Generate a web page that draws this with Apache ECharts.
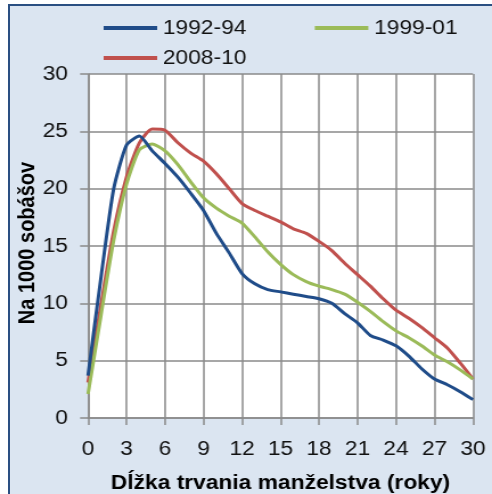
<!DOCTYPE html>
<html>
<head>
<meta charset="utf-8">
<script src="https://cdn.jsdelivr.net/npm/echarts@6/dist/echarts.min.js"></script>
<style>
  html, body { margin: 0; padding: 0; background: #fff; overflow: hidden; }
  #frame {
    position: absolute; left: 8px; top: 4px; width: 484px; height: 490px;
    box-sizing: border-box; background: #dbe5f1;
    border-left: 2px solid #2a4f82; border-top: 2px solid #2a4f82;
  }
  /* the source picture is stretched sideways, so draw narrower and widen */
  #chart {
    position: absolute; left: 0; top: 0; width: 432px; height: 494px;
    transform: scaleX(1.13889); transform-origin: 0 0;
  }
</style>
</head>
<body>
<div id="frame"></div>
<div id="chart"></div>
<script>
  // dĺžka trvania manželstva 0..30 rokov
  const years = [0,1,2,3,4,5,6,7,8,9,10,11,12,13,14,15,16,17,18,19,20,21,22,23,24,25,26,27,28,29,30];
  // rozvody na 1000 sobášov
  const s1992 = [3.7,12.2,20.0,23.8,24.6,23.3,22.2,21.0,19.6,18.1,16.1,14.4,12.6,11.7,11.2,11.0,10.8,10.6,10.4,10.0,9.1,8.3,7.2,6.8,6.3,5.4,4.3,3.4,2.9,2.3,1.6];
  const s1999 = [2.1,8.9,15.5,20.4,23.4,23.9,23.3,22.1,20.6,19.2,18.3,17.6,17.0,15.8,14.5,13.4,12.5,11.9,11.5,11.2,10.8,10.1,9.3,8.4,7.6,7.0,6.3,5.5,4.9,4.2,3.4];
  const s2008 = [3.1,9.8,16.3,21.0,24.0,25.2,25.1,24.0,23.1,22.4,21.3,20.0,18.7,18.1,17.6,17.1,16.5,16.1,15.4,14.6,13.5,12.5,11.5,10.4,9.4,8.7,7.9,7.0,6.1,4.8,3.4];
  const seriesNames = ['1992-94', '1999-01', '2008-10'];
  const colors = ['#1f4c89', '#9bbb59', '#c0504d'];

  const font = 'Liberation Sans, Arial, sans-serif';
  const gridColor = '#8a8a8a';
  const pairs = arr => arr.map((v, i) => [years[i], v]);

  const chart = echarts.init(document.getElementById('chart'), null, { renderer: 'canvas' });

  const legendBase = {
    icon: 'rect',
    itemWidth: 47,
    itemHeight: 4,
    itemGap: 60,
    textStyle: { fontFamily: font, fontSize: 20, color: '#111' }
  };

  chart.setOption({
    backgroundColor: 'transparent',
    color: colors,
    animation: false,
    legend: [
      Object.assign({ left: 86, top: 13, data: [seriesNames[0], seriesNames[1]] }, legendBase),
      Object.assign({ left: 86, top: 43, data: [seriesNames[2]] }, legendBase)
    ],
    grid: {
      left: 77.3, right: 16.7, top: 74, bottom: 76,
      outerBoundsMode: 'none',
      show: true, backgroundColor: '#fff', borderWidth: 0
    },
    xAxis: {
      type: 'value',
      min: 0, max: 30, interval: 3,
      name: 'Dĺžka trvania manželstva (roky)',
      nameLocation: 'middle',
      nameGap: 55,
      nameMoveOverlap: false,
      nameTextStyle: { fontFamily: font, fontSize: 20, fontWeight: 'bold', color: '#000' },
      axisLine: { lineStyle: { color: gridColor, width: 1.5 } },
      axisTick: { show: true, length: 7, lineStyle: { color: gridColor, width: 1.5 } },
      axisLabel: { fontFamily: font, fontSize: 20, color: '#111', margin: 21 },
      splitLine: { show: true, lineStyle: { color: gridColor, width: 1.5 } }
    },
    yAxis: {
      type: 'value',
      min: 0, max: 30, interval: 5,
      name: 'Na 1000 sobášov',
      nameLocation: 'middle',
      nameGap: 42.5,
      nameMoveOverlap: false,
      nameTextStyle: { fontFamily: font, fontSize: 20, fontWeight: 'bold', color: '#000', padding: [0, 0, 0, 6] },
      axisLine: { show: true, lineStyle: { color: gridColor, width: 1.5 } },
      axisTick: { show: true, length: 7, lineStyle: { color: gridColor, width: 1.5 } },
      axisLabel: { fontFamily: font, fontSize: 20, color: '#111', margin: 17.6 },
      splitLine: { show: true, lineStyle: { color: gridColor, width: 1.5 } }
    },
    series: [s1992, s1999, s2008].map((d, i) => ({
      name: seriesNames[i],
      type: 'line',
      data: pairs(d),
      symbol: 'none',
      smooth: 0.2,
      lineStyle: { width: 3, color: colors[i] },
      itemStyle: { color: colors[i] },
      z: 3 - i
    }))
  });
</script>
</body>
</html>
